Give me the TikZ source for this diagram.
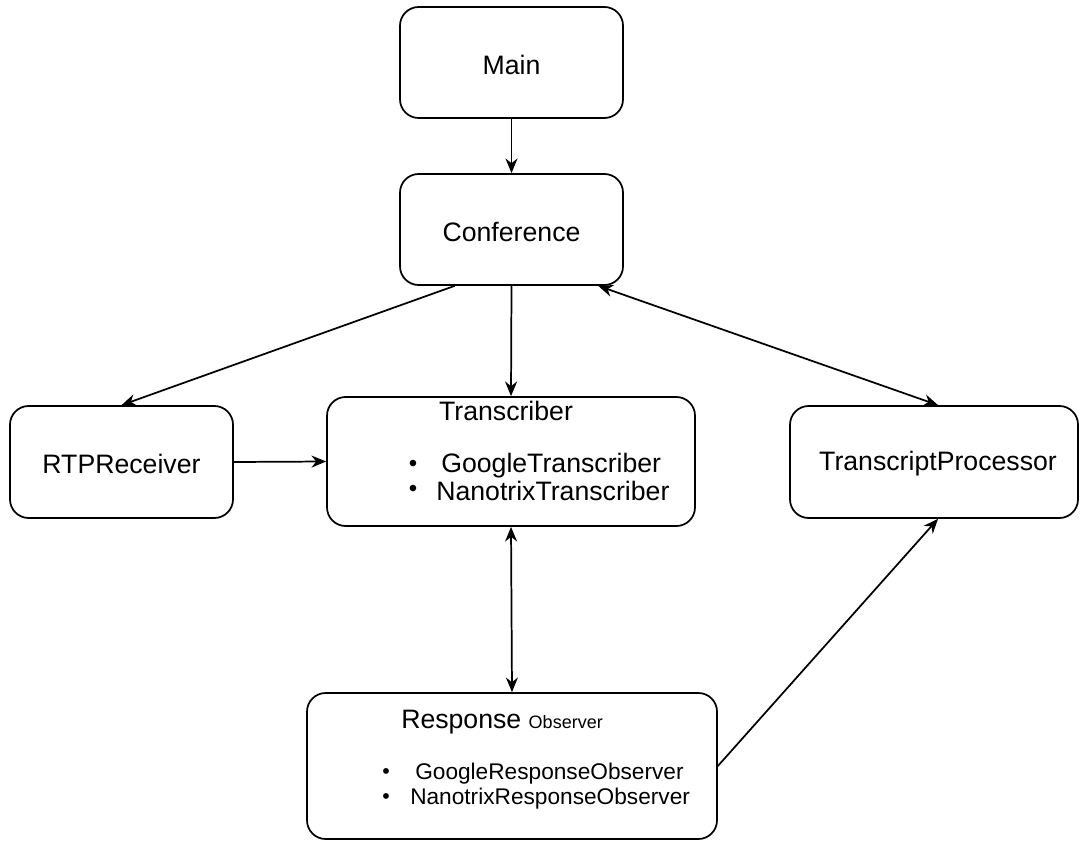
\documentclass[tikz,border=0pt]{standalone}
\usepackage{fontspec}
\setmainfont{Liberation Sans}
\usetikzlibrary{arrows.meta,calc}
\begin{document}
\begin{tikzpicture}[x=0.75pt,y=-0.75pt,
  box/.style={draw, line width=1.3pt, rounded corners=14pt, inner sep=0pt},
  lbl/.style={font=\fontsize{20}{24}\selectfont, inner sep=0pt},
  bul/.style={font=\fontsize{18}{21}\selectfont, inner sep=0pt},
  item/.style={font=\fontsize{17}{21}\selectfont, inner sep=0pt, anchor=west},
  conn/.style={line width=1.3pt, -{Stealth[length=11pt,width=9pt]}},
  bconn/.style={line width=1.3pt, {Stealth[length=11pt,width=9pt]}-{Stealth[length=11pt,width=9pt]}}]
\useasboundingbox (0,0) rectangle (1080,841);
\node[box, minimum width=167.25pt, minimum height=83.25pt] (main) at (511.5,62.5) {};
\node[lbl] at ($(main.center)+(0,2)$) {Main};
\node[box, minimum width=167.25pt, minimum height=83.25pt] (conf) at (511.5,229.5) {};
\node[lbl] at ($(conf.center)+(0,2)$) {Conference};
\node[box, minimum width=167.25pt, minimum height=84pt] (rtp) at (121.5,462) {};
\node[lbl] at ($(rtp.center)+(0,2)$) {RTPReceiver};
\node[box, minimum width=276pt, minimum height=96.75pt] (trans) at (511,461.5) {};
\node[lbl] (transt) at (506,411) {Transcriber};
\node[bul] (tb1) at (413,466) {\textbullet};
\node[lbl, anchor=west] (ti1) at (441,466) {GoogleTranscriber};
\node[bul] (tb2) at (413,491) {\textbullet};
\node[lbl, anchor=west] (ti2) at (436,491) {NanotrixTranscriber};
\node[box, minimum width=216pt, minimum height=84pt] (tp) at (934,462) {};
\node[lbl] at ($(tp.center)+(4,2)$) {TranscriptProcessor};
\node[box, minimum width=307.5pt, minimum height=109.5pt] (ro) at (512,766) {};
\node[lbl] (rot) at (502,722) {Response {\fontsize{13.5}{17}\selectfont Observer}};
\node[bul, font=\fontsize{16}{19}\selectfont] (rb1) at (386,774) {\textbullet};
\node[item] (ri1) at (415,774) {GoogleResponseObserver};
\node[bul, font=\fontsize{16}{19}\selectfont] (rb2) at (386,799) {\textbullet};
\node[item] (ri2) at (410,799) {NanotrixResponseObserver};
\draw[conn] (main.south) -- (conf.north);
\draw[conn] ($(conf.south west)!0.247!(conf.south east)$) -- (rtp.north);
\draw[conn] (conf.south) -- (trans.north);
\draw[bconn] ($(conf.south west)!0.886!(conf.south east)$) -- ($(tp.north)+(4,0)$);
\draw[conn] (rtp.east) -- (trans.west);
\draw[bconn] (trans.south) -- (ro.north);
\draw[conn] (ro.east) -- ($(tp.south)+(4,0)$);
\end{tikzpicture}
\end{document}
